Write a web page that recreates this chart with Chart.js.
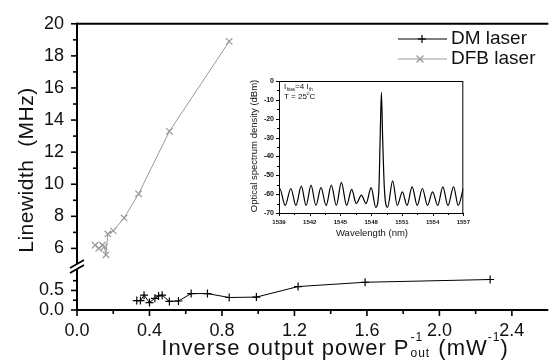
<!DOCTYPE html>
<html><head><meta charset="utf-8">
<script src="https://cdn.jsdelivr.net/npm/chart.js@4"></script>
<style>
html,body{margin:0;padding:0;background:#fff;}
#wrap{position:relative;width:552px;height:360px;overflow:hidden;background:#fff;}
#main{position:absolute;left:0;top:0;}
#inset{position:absolute;left:236px;top:70px;}
</style></head><body>
<div id="wrap">
<canvas id="main" width="552" height="360" style="width:552px;height:360px"></canvas>
<canvas id="inset" width="240" height="172" style="width:240px;height:172px"></canvas>
</div>
<script>
// ---- main chart data ----
const dmX  = [0.33, 0.35, 0.37, 0.40, 0.43, 0.45, 0.47, 0.51, 0.56, 0.63, 0.72, 0.84, 0.99, 1.22, 1.59, 2.28];
const dmY  = [0.24, 0.24, 0.38, 0.19, 0.30, 0.36, 0.38, 0.22, 0.23, 0.42, 0.42, 0.32, 0.33, 0.60, 0.71, 0.78];
const dfbX = [0.10, 0.12, 0.14, 0.15, 0.16, 0.17, 0.20, 0.26, 0.34, 0.51, 0.84];
const dfbY = [6.2, 6.0, 6.2, 6.1, 5.6, 6.9, 7.1, 7.9, 9.4, 13.3, 18.9];
const xTickLabels = [0, 0.4, 0.8, 1.2, 1.6, 2.0, 2.4];
const yHighTickLabels = [6, 8, 10, 12, 14, 16, 18, 20];
const yLowTickLabels = [0, 0.5];
const seriesNames = ['DM laser', 'DFB laser'];

// ---- inset (optical spectrum) data ----
const specX = [1539.0, 1539.07, 1539.6, 1540.16, 1540.65, 1541.18, 1541.65, 1542.13, 1542.6, 1543.1, 1543.6, 1544.11, 1544.6, 1545.09, 1545.6, 1546.1, 1546.55, 1547.05, 1547.5, 1548.0, 1548.45, 1548.75, 1548.88, 1549.0, 1549.12, 1549.3, 1549.6, 1550.1, 1550.55, 1551.05, 1551.5, 1552.0, 1552.5, 1553.0, 1553.5, 1554.0, 1554.5, 1555.0, 1555.5, 1556.05, 1556.5, 1557.0];
const specY = [-60, -57, -66, -57, -66, -55.8, -66, -55.2, -66, -56.5, -66, -55.2, -66, -53.8, -66, -57.5, -65, -60.5, -65, -56.5, -67, -58, -30, -6, -30, -58, -67, -53, -66, -58.8, -66, -56.1, -66, -57, -66, -58.8, -66, -56.1, -66, -56.1, -66, -57];
const specXTickLabels = [1539, 1542, 1545, 1548, 1551, 1554, 1557];
const specYTickLabels = [0, -10, -20, -30, -40, -50, -60, -70];

const FAM = '"Liberation Sans", Arial, sans-serif';
const TXT = '#111';
const GRAY = '#999999';

function line(ctx, x1, y1, x2, y2) { ctx.beginPath(); ctx.moveTo(x1, y1); ctx.lineTo(x2, y2); ctx.stroke(); }
function plus(ctx, x, y, r) { line(ctx, x - r, y, x + r, y); line(ctx, x, y - r, x, y + r); }
function times(ctx, x, y, r) { line(ctx, x - r, y - r, x + r, y + r); line(ctx, x - r, y + r, x + r, y - r); }

const mainDeco = {
  id: 'mainDeco',
  afterDraw(c) {
    const ctx = c.ctx, xs = c.scales.x, yh = c.scales.yHigh, yl = c.scales.yLow, ca = c.chartArea;
    ctx.save();
    ctx.strokeStyle = '#000';
    ctx.lineWidth = 2;
    line(ctx, ca.left - 1, ca.top, ca.right + 2, ca.top);
    line(ctx, ca.left, ca.top - 1, ca.left, ca.bottom + 1);
    line(ctx, ca.left - 1, ca.bottom, ca.right + 2, ca.bottom);
    // x ticks
    ctx.lineWidth = 1.6;
    for (let i = 0; i <= 13; i++) {
      const v = i * 0.2;
      if (v > xs.max) break;
      const px = xs.getPixelForValue(v);
      const len = (i % 2 === 0) ? 6 : 4;
      line(ctx, px, ca.bottom, px, ca.bottom + len);
    }
    // y high ticks
    for (let v = 6; v <= 20; v++) {
      const py = yh.getPixelForValue(v);
      const len = (v % 2 === 0) ? 6 : 4;
      line(ctx, ca.left - len, py, ca.left, py);
    }
    // y low ticks
    [0, 0.25, 0.5, 0.75].forEach((v, i) => {
      const py = yl.getPixelForValue(v);
      const len = (i % 2 === 0) ? 6 : 4;
      line(ctx, ca.left - len, py, ca.left, py);
    });
    // axis break
    const cy = Math.max(yh.bottom, yl.top) + 0.5, x0 = ca.left;
    ctx.fillStyle = '#fff';
    ctx.beginPath();
    ctx.moveTo(x0 - 7, cy + 1.5); ctx.lineTo(x0 + 7, cy - 6.5); ctx.lineTo(x0 + 7, cy - 1.5); ctx.lineTo(x0 - 7, cy + 6.5); ctx.closePath();
    ctx.fill();
    ctx.lineWidth = 1.8;
    line(ctx, x0 - 7, cy + 1.5, x0 + 7, cy - 6.5);
    line(ctx, x0 - 7, cy + 6.5, x0 + 7, cy - 1.5);

    // legend
    ctx.lineWidth = 1;
    ctx.strokeStyle = '#000';
    line(ctx, 398, 39, 447, 39);
    ctx.lineWidth = 1.2; plus(ctx, 422, 39, 4);
    ctx.strokeStyle = GRAY; ctx.lineWidth = 1;
    line(ctx, 398, 59, 447, 59);
    ctx.lineWidth = 1.2; times(ctx, 420, 59, 3.5);
    ctx.fillStyle = TXT;
    ctx.font = '19px ' + FAM;
    ctx.textBaseline = 'middle';
    ctx.textAlign = 'left';
    ctx.fillText(seriesNames[0], 451, 39);
    ctx.fillText(seriesNames[1], 451, 59);

    // y title
    ctx.save();
    ctx.translate(27, 170);
    ctx.rotate(-Math.PI / 2);
    ctx.textAlign = 'center';
    ctx.textBaseline = 'middle';
    ctx.font = '21px ' + FAM;
    ctx.letterSpacing = '0.5px';
    ctx.fillText('Linewidth  (MHz)', 0, 0);
    ctx.restore();

    // x title with super/subscripts
    const big = '22px ' + FAM, small = '12px ' + FAM;
    ctx.textBaseline = 'alphabetic';
    ctx.textAlign = 'left';
    ctx.letterSpacing = '1px';
    const p1 = 'Inverse output power P', p2 = ' (mW', p3 = ')';
    ctx.font = big; const w1 = ctx.measureText(p1).width, w2 = ctx.measureText(p2).width, w3 = ctx.measureText(p3).width;
    ctx.font = small; const ws = ctx.measureText('-1').width, wo = ctx.measureText('out').width;
    const total = w1 + Math.max(ws, wo) + 2 + w2 + ws + w3;
    let x = 335 - total / 2; const base = 355;
    ctx.font = big; ctx.fillText(p1, x, base); x += w1;
    ctx.font = small; ctx.fillText('-1', x + 1, base - 14); ctx.fillText('out', x + 1, base + 2); x += Math.max(ws, wo) + 2;
    ctx.font = big; ctx.fillText(p2, x, base); x += w2;
    ctx.font = small; ctx.fillText('-1', x, base - 14); x += ws;
    ctx.font = big; ctx.fillText(p3, x, base);
    ctx.restore();
  }
};

new Chart(document.getElementById('main'), {
  type: 'line',
  data: {
    datasets: [
      { label: seriesNames[0], data: dmX.map((x, i) => ({ x, y: dmY[i] })), yAxisID: 'yLow',
        borderColor: '#000', borderWidth: 1, pointStyle: 'cross', pointRadius: 4, pointBorderColor: '#000',
        pointBorderWidth: 1.2, pointBackgroundColor: '#000', fill: false, tension: 0 },
      { label: seriesNames[1], data: dfbX.map((x, i) => ({ x, y: dfbY[i] })), yAxisID: 'yHigh',
        borderColor: GRAY, borderWidth: 1, pointStyle: 'crossRot', pointRadius: 4.5, pointBorderColor: GRAY,
        pointBorderWidth: 1.2, pointBackgroundColor: GRAY, fill: false, tension: 0 }
    ]
  },
  options: {
    responsive: false, animation: false, devicePixelRatio: 1,
    layout: { padding: { left: 0, top: 17, right: 1, bottom: 0 } },
    plugins: { legend: { display: false }, tooltip: { enabled: false } },
    scales: {
      x: {
        type: 'linear', min: 0, max: 2.59,
        afterFit: s => { s.height = 50; },
        afterBuildTicks: s => { s.ticks = xTickLabels.map(v => ({ value: v })); },
        grid: { display: false, drawTicks: false }, border: { display: false },
        ticks: { autoSkip: false, maxRotation: 0, padding: 10, color: TXT, font: { size: 18, family: FAM }, callback: v => Number(v).toFixed(1) }
      },
      yLow: {
        type: 'linear', position: 'left', stack: 'y', stackWeight: 45, min: 0, max: 1.125,
        afterFit: s => { s.width = 77; },
        afterBuildTicks: s => { s.ticks = yLowTickLabels.map(v => ({ value: v })); },
        grid: { display: false, drawTicks: false }, border: { display: false },
        ticks: { autoSkip: false, padding: 13, color: TXT, font: { size: 18, family: FAM }, callback: v => Number(v).toFixed(1) }
      },
      yHigh: {
        type: 'linear', position: 'left', stack: 'y', stackWeight: 248, min: 4.9, max: 20,
        afterFit: s => { s.width = 77; },
        afterBuildTicks: s => { s.ticks = yHighTickLabels.map(v => ({ value: v })); },
        grid: { display: false, drawTicks: false }, border: { display: false },
        ticks: { autoSkip: false, padding: 13, color: TXT, font: { size: 18, family: FAM }, callback: v => String(v) }
      }
    }
  },
  plugins: [mainDeco]
});

const insetDeco = {
  id: 'insetDeco',
  afterDraw(c) {
    const ctx = c.ctx, xs = c.scales.x, ys = c.scales.y, ca = c.chartArea;
    ctx.save();
    ctx.strokeStyle = '#000';
    ctx.lineWidth = 1;
    ctx.strokeRect(ca.left + 0.5, ca.top + 0.5, ca.right - ca.left - 1, ca.bottom - ca.top);
    for (let i = 0; i <= 12; i++) {
      const v = 1539 + i * 1.5;
      const px = Math.round(xs.getPixelForValue(v)) + 0.5;
      line(ctx, px, ca.bottom, px, ca.bottom + (i % 2 === 0 ? 3 : 2));
    }
    for (let i = 0; i <= 14; i++) {
      const v = -i * 5;
      const py = Math.round(ys.getPixelForValue(v)) + 0.5;
      line(ctx, ca.left - (i % 2 === 0 ? 3 : 2), py, ca.left, py);
    }
    ctx.fillStyle = TXT;
    // titles
    ctx.textAlign = 'center'; ctx.textBaseline = 'middle';
    ctx.font = '9.5px ' + FAM;
    ctx.fillText('Wavelength (nm)', 372 - 236, 233 - 70);
    ctx.save();
    ctx.translate(254 - 236, 146 - 70);
    ctx.rotate(-Math.PI / 2);
    ctx.font = '9.5px ' + FAM;
    ctx.fillText('Optical spectrum density (dBm)', 0, 0);
    ctx.restore();
    // annotations
    ctx.textAlign = 'left'; ctx.textBaseline = 'alphabetic';
    let x = 284 - 236; const b1 = 89 - 70, b2 = 99 - 70;
    const n = '8px ' + FAM, s = '4.5px ' + FAM;
    ctx.font = n; ctx.fillText('I', x, b1); x += ctx.measureText('I').width + 0.5;
    ctx.font = s; ctx.fillText('bias', x, b1 + 2); x += ctx.measureText('bias').width;
    ctx.font = n; ctx.fillText('=4 I', x, b1); x += ctx.measureText('=4 I').width + 0.5;
    ctx.font = s; ctx.fillText('th', x, b1 + 2);
    x = 284 - 236;
    ctx.font = n; ctx.fillText('T = 25', x, b2); x += ctx.measureText('T = 25').width;
    ctx.font = s; ctx.fillText('o', x, b2 - 4); x += ctx.measureText('o').width;
    ctx.font = n; ctx.fillText('C', x, b2);
    ctx.restore();
  }
};

new Chart(document.getElementById('inset'), {
  type: 'line',
  data: {
    datasets: [{ data: specX.map((x, i) => ({ x, y: specY[i] })), borderColor: '#000', borderWidth: 1.2,
      pointRadius: 0, cubicInterpolationMode: 'monotone', fill: false }]
  },
  options: {
    responsive: false, animation: false, devicePixelRatio: 1,
    layout: { padding: { left: 0, top: 11, right: 7, bottom: 0 } },
    plugins: { legend: { display: false }, tooltip: { enabled: false } },
    scales: {
      x: {
        type: 'linear', min: 1539, max: 1557,
        afterFit: s => { s.height = 29; },
        afterBuildTicks: s => { s.ticks = specXTickLabels.map(v => ({ value: v })); },
        grid: { display: false, drawTicks: false }, border: { display: false },
        ticks: { autoSkip: false, maxRotation: 0, padding: 6, color: TXT, font: { size: 6, weight: 'bold', family: FAM }, callback: v => String(v) }
      },
      y: {
        type: 'linear', min: -70, max: 0,
        afterFit: s => { s.width = 43; },
        afterBuildTicks: s => { s.ticks = specYTickLabels.map(v => ({ value: v })); },
        grid: { display: false, drawTicks: false }, border: { display: false },
        ticks: { autoSkip: false, padding: 5, color: TXT, font: { size: 7, weight: 'bold', family: FAM }, callback: v => String(v) }
      }
    }
  },
  plugins: [insetDeco]
});
</script>
</body></html>
